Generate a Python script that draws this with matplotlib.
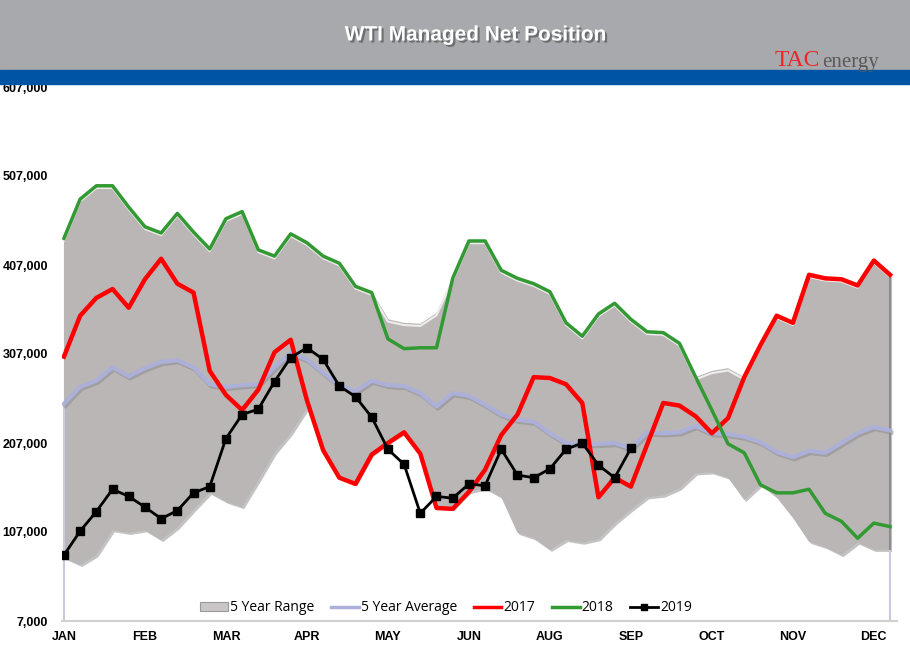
import numpy as np
import matplotlib
matplotlib.use("Agg")
import matplotlib.pyplot as plt
import matplotlib.patheffects as pe
from matplotlib.patches import Rectangle

# weekly values, thousands of contracts
weeks = np.arange(52)
month_labels = ['JAN', 'FEB', 'MAR', 'APR', 'MAY', 'JUN', 'AUG', 'SEP', 'OCT', 'NOV', 'DEC']
month_pos = [0, 5, 10, 15, 20, 25, 30, 35, 40, 45, 50]

range_high = [437, 481, 496, 496, 472, 450, 443, 465, 444, 425,
              459, 467, 424, 417, 442, 432, 417, 409, 383, 376,
              346, 342, 341, 353, 392, 434, 434, 401, 392, 386,
              377, 342, 327, 352, 364, 346, 332, 331, 319, 281,
              288, 291, 281, 317, 350, 342, 396, 392, 391, 384,
              412, 396]
range_low = [78, 70, 81, 109, 106, 109, 98, 112, 132, 151,
             141, 135, 165, 196, 218, 246, 199, 168, 161, 194,
             207, 219, 195, 134, 133, 152, 156, 146, 106, 100,
             87, 98, 95, 99, 117, 132, 146, 148, 156, 173,
             174, 168, 143, 160, 146, 123, 96, 90, 81, 95,
             87, 87]
avg5 = [251, 270, 277, 292, 282, 291, 298, 300, 292, 273,
        270, 272, 273, 292, 308, 301, 286, 272, 265, 277,
        272, 271, 263, 248, 263, 260, 250, 239, 233, 231,
        218, 207, 205, 206, 207, 201, 219, 218, 219, 226,
        218, 217, 214, 208, 197, 191, 198, 196, 207, 218,
        225, 221]
y2017 = [304, 350, 370, 380, 359, 391, 414, 386, 376, 288,
         261, 244, 267, 309, 323, 255, 199, 168, 161, 194,
         207, 219, 195, 134, 133, 152, 177, 216, 239, 281,
         280, 273, 252, 146, 168, 158, 205, 252, 249, 237,
         218, 235, 281, 317, 350, 342, 396, 392, 391, 384,
         412, 396]
y2018 = [437, 481, 496, 496, 472, 450, 443, 465, 444, 425,
         459, 467, 424, 417, 442, 432, 417, 409, 383, 376,
         324, 313, 314, 314, 392, 434, 434, 401, 392, 386,
         377, 342, 327, 352, 364, 346, 332, 331, 319, 281,
         244, 206, 196, 160, 151, 151, 155, 128, 119, 100,
         117, 113]
y2019 = [81, 108, 130, 155, 147, 135, 122, 131, 151, 158,
         212, 239, 245, 276, 303, 314, 301, 271, 259, 236,
         200, 183, 128, 147, 145, 161, 159, 200, 171, 168,
         178, 200, 207, 182, 168, 201]

hi = np.array(range_high) * 1000
lo = np.array(range_low) * 1000

fig = plt.figure(figsize=(9.1, 6.59), dpi=100)

# header bands
fig.patches.append(Rectangle((0, 1 - 70 / 659), 1, 70 / 659, transform=fig.transFigure,
                             color='#a7a9ac', zorder=0))
fig.patches.append(Rectangle((0, 1 - 84 / 659), 1, 14 / 659, transform=fig.transFigure,
                             color='#0054a6', zorder=0))
fig.text(0.523, 1 - 35 / 659, 'WTI Managed Net Position', color='white', fontsize=15,
         fontweight='bold', family='Liberation Sans', ha='center', va='center',
         path_effects=[pe.withSimplePatchShadow(offset=(1.5, -1.5), shadow_rgbFace='#555555', alpha=0.7)])
fig.text(0.851, 1 - 60 / 659, 'TAC', color='#e8262b', fontsize=17, family='Liberation Serif',
         ha='left', va='center')
fig.text(0.903, 1 - 63 / 659, 'energy', color='#5a5a5a', fontsize=15, family='Liberation Serif',
         ha='left', va='center')

ax = fig.add_axes([62 / 910, 1 - 621 / 659, (897 - 62) / 910, (621 - 87) / 659])

ax.fill_between(weeks, lo, hi, color='#bab6b6', lw=0, zorder=1,
                path_effects=[pe.withSimplePatchShadow(offset=(1.5, -1.5), shadow_rgbFace='#888888', alpha=0.5)])
ax.plot(weeks, hi - 2500, color='#eeecec', lw=1.5, zorder=2)
ax.vlines([0], 7000, avg5[0] * 1000, color='#c8c8e0', lw=1.5, zorder=1)
ax.vlines([51], lo[-1], hi[-1], color='#8c8c8c', lw=1.5, zorder=2)
ax.vlines([51], 7000, avg5[-1] * 1000, color='#c8c8e0', lw=1.5, zorder=1)

ax.plot(weeks, np.array(avg5) * 1000, color='#acb0d8', lw=3, zorder=3,
        path_effects=[pe.SimpleLineShadow(offset=(1, -1.5), shadow_color='#888888', alpha=0.5), pe.Normal()])
ax.plot(weeks, np.array(y2017) * 1000, color='#ff0000', lw=3.2, zorder=4)
ax.plot(weeks, np.array(y2018) * 1000, color='#339933', lw=2.5, zorder=4)
ax.plot(weeks[:len(y2019)], np.array(y2019) * 1000, color='black', lw=2, marker='s',
        markersize=6, zorder=5)

# legend proxies
h_range = Rectangle((0, 0), 1, 1, facecolor='#c8c6c6', edgecolor='#9a9a9a', lw=0.8)
h_avg, = ax.plot([], [], color='#acb0d8', lw=2.5)
h17, = ax.plot([], [], color='#ff0000', lw=2.5)
h18, = ax.plot([], [], color='#339933', lw=2.5)
h19, = ax.plot([], [], color='black', lw=2, marker='s', markersize=5)
ax.legend([h_range, h_avg, h17, h18, h19],
          ['5 Year Range', '5 Year Average', '2017', '2018', '2019'],
          loc='lower center', bbox_to_anchor=(0.46, -0.013), ncol=5, frameon=False,
          prop={'family': 'Open Sans', 'size': 10}, handlelength=2.0, handletextpad=0.15,
          columnspacing=1.2, handleheight=0.6)

ax.set_xlim(-0.12, 51.43)
ax.set_ylim(7000, 607000)
ax.set_yticks(np.arange(7000, 607001, 100000))
ax.set_yticklabels([f'{v:,}' for v in range(7000, 607001, 100000)])
ax.set_xticks(month_pos)
ax.set_xticklabels(month_labels)
for lab in ax.get_xticklabels() + ax.get_yticklabels():
    lab.set_fontweight('bold')
    lab.set_family('Liberation Sans')
    lab.set_fontsize(9)
ax.tick_params(axis='y', length=0, pad=10)
ax.tick_params(axis='x', length=0, pad=7)
for s in ['top', 'right', 'left']:
    ax.spines[s].set_visible(False)
ax.spines['bottom'].set_color('#d0d0d0')
ax.spines['bottom'].set_linewidth(1.5)

fig.savefig('out.png', dpi=100)
